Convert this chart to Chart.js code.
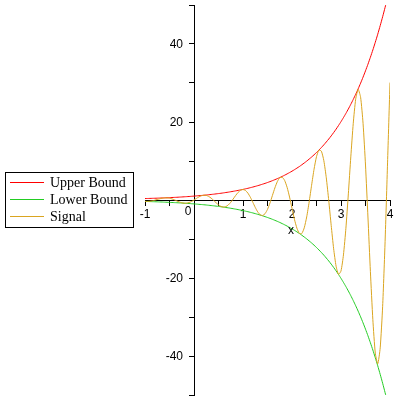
<!DOCTYPE html>
<html>
<head>
<meta charset="utf-8">
<script src="https://cdn.jsdelivr.net/npm/chart.js@4.4.1/dist/chart.umd.min.js"></script>
<style>
  html, body { margin: 0; padding: 0; background: #fff; }
</style>
</head>
<body>
<canvas id="chart" width="400" height="400"></canvas>
<script>
// sample positions along x
const xs = [
  -1.00, -0.95, -0.90, -0.85, -0.80, -0.75, -0.70, -0.65, -0.60, -0.55,
  -0.50, -0.45, -0.40, -0.35, -0.30, -0.25, -0.20, -0.15, -0.10, -0.05,
  0.00, 0.05, 0.10, 0.15, 0.20, 0.25, 0.30, 0.35, 0.40, 0.45,
  0.50, 0.55, 0.60, 0.65, 0.70, 0.75, 0.80, 0.85, 0.90, 0.95,
  1.00, 1.05, 1.10, 1.15, 1.20, 1.25, 1.30, 1.35, 1.40, 1.45,
  1.50, 1.55, 1.60, 1.65, 1.70, 1.75, 1.80, 1.85, 1.90, 1.95,
  2.00, 2.05, 2.10, 2.15, 2.20, 2.25, 2.30, 2.35, 2.40, 2.45,
  2.50, 2.55, 2.60, 2.65, 2.70, 2.75, 2.80, 2.85, 2.90, 2.95,
  3.00, 3.05, 3.10, 3.15, 3.20, 3.25, 3.30, 3.35, 3.40, 3.45,
  3.50, 3.55, 3.60, 3.65, 3.70, 3.75, 3.80, 3.85, 3.90, 3.95,
  4.00
];

const upper = [
  0.37, 0.39, 0.41, 0.43, 0.45, 0.47, 0.50, 0.52, 0.55, 0.58,
  0.61, 0.64, 0.67, 0.70, 0.74, 0.78, 0.82, 0.86, 0.90, 0.95,
  1.00, 1.05, 1.11, 1.16, 1.22, 1.28, 1.35, 1.42, 1.49, 1.57,
  1.65, 1.73, 1.82, 1.92, 2.01, 2.12, 2.23, 2.34, 2.46, 2.59,
  2.72, 2.86, 3.00, 3.16, 3.32, 3.49, 3.67, 3.86, 4.06, 4.26,
  4.48, 4.71, 4.95, 5.21, 5.47, 5.75, 6.05, 6.36, 6.69, 7.03,
  7.39, 7.77, 8.17, 8.58, 9.03, 9.49, 9.97, 10.49, 11.02, 11.59,
  12.18, 12.81, 13.46, 14.15, 14.88, 15.64, 16.44, 17.29, 18.17, 19.11,
  20.09, 21.12, 22.20, 23.34, 24.53, 25.79, 27.11, 28.50, 29.96, 31.50,
  33.12, 34.81, 36.60, 38.47, 40.45, 42.52, 44.70, 46.99, 49.40, 51.94,
  54.60
];

const lower = [
  -0.37, -0.39, -0.41, -0.43, -0.45, -0.47, -0.50, -0.52, -0.55, -0.58,
  -0.61, -0.64, -0.67, -0.70, -0.74, -0.78, -0.82, -0.86, -0.90, -0.95,
  -1.00, -1.05, -1.11, -1.16, -1.22, -1.28, -1.35, -1.42, -1.49, -1.57,
  -1.65, -1.73, -1.82, -1.92, -2.01, -2.12, -2.23, -2.34, -2.46, -2.59,
  -2.72, -2.86, -3.00, -3.16, -3.32, -3.49, -3.67, -3.86, -4.06, -4.26,
  -4.48, -4.71, -4.95, -5.21, -5.47, -5.75, -6.05, -6.36, -6.69, -7.03,
  -7.39, -7.77, -8.17, -8.58, -9.03, -9.49, -9.97, -10.49, -11.02, -11.59,
  -12.18, -12.81, -13.46, -14.15, -14.88, -15.64, -16.44, -17.29, -18.17, -19.11,
  -20.09, -21.12, -22.20, -23.34, -24.53, -25.79, -27.11, -28.50, -29.96, -31.50,
  -33.12, -34.81, -36.60, -38.47, -40.45, -42.52, -44.70, -46.99, -49.40, -51.94,
  -54.60
];

const signal = [
  -0.36, -0.37, -0.32, -0.21, -0.05, 0.13, 0.31, 0.46, 0.55, 0.55,
  0.46, 0.28, 0.04, -0.24, -0.50, -0.71, -0.82, -0.80, -0.65, -0.37,
  0.00, 0.41, 0.79, 1.08, 1.22, 1.17, 0.91, 0.48, -0.09, -0.69,
  -1.25, -1.65, -1.82, -1.69, -1.27, -0.59, 0.26, 1.16, 1.95, 2.50,
  2.69, 2.44, 1.76, 0.71, -0.58, -1.90, -3.04, -3.78, -3.97, -3.51,
  -2.40, -0.78, 1.15, 3.08, 4.70, 5.70, 5.84, 5.01, 3.25, 0.76,
  -2.13, -4.96, -7.22, -8.56, -8.59, -7.13, -4.34, -0.52, 3.78, 7.90,
  11.12, 12.80, 12.51, 10.07, 5.68, -0.14, -6.53, -12.51, -16.99, -19.10,
  -18.19, -14.08, -7.25, 1.57, 11.05, 19.67, 25.87, 28.37, 26.36, 19.67,
  8.97, -4.36, -18.37, -30.69, -39.26, -42.01, -37.92, -27.25, -10.59, 9.51,
  30.11
];

const seriesNames = ["Upper Bound", "Lower Bound", "Signal"];
const seriesColors = ["#ff0000", "#22cc22", "#daa520"];

const xLabels = [-1, 1, 2, 3, 4];
const yLabels = [-40, -20, 20, 40];

const tickFont = { family: "Liberation Sans", size: 12 };

function pts(ys) {
  return xs.map((x, i) => ({ x: x, y: ys[i] }));
}

// draws the y tick labels, the offset "0", the axis name and the boxed legend
const extras = {
  id: "extras",
  afterDraw(chart) {
    const ctx = chart.ctx;
    const sx = chart.scales.x;
    const sy = chart.scales.y;
    const x0 = sx.getPixelForValue(0);
    const y0 = sy.getPixelForValue(0);
    ctx.save();
    ctx.fillStyle = "#000";
    ctx.font = "12px 'Liberation Sans'";
    ctx.textBaseline = "middle";
    ctx.textAlign = "right";
    yLabels.forEach((v) => {
      ctx.fillText(String(v), x0 - 11, sy.getPixelForValue(v) + 1);
    });
    ctx.textAlign = "center";
    ctx.fillText("0", x0 - 6, y0 + 12);
    ctx.fillText("x", sx.getPixelForValue(1.98), y0 + 31);

    ctx.strokeStyle = "#000";
    ctx.lineWidth = 1;
    ctx.strokeRect(5.5, 172.5, 128, 55);
    ctx.font = "14px 'Liberation Serif'";
    ctx.textAlign = "left";
    const rows = [182, 199, 216];
    seriesNames.forEach((name, i) => {
      ctx.strokeStyle = seriesColors[i];
      ctx.beginPath();
      ctx.moveTo(10, rows[i] + 0.5);
      ctx.lineTo(44, rows[i] + 0.5);
      ctx.stroke();
      ctx.fillStyle = "#000";
      ctx.fillText(name, 50, rows[i] + 1);
    });
    ctx.restore();
  }
};

const ctx = document.getElementById("chart").getContext("2d");
new Chart(ctx, {
  type: "line",
  data: {
    datasets: [
      { label: seriesNames[0], data: pts(upper), borderColor: seriesColors[0], order: 2 },
      { label: seriesNames[1], data: pts(lower), borderColor: seriesColors[1], order: 1 },
      { label: seriesNames[2], data: pts(signal), borderColor: seriesColors[2], order: 0 },
    ],
  },
  options: {
    responsive: false,
    animation: false,
    layout: { padding: { left: 145, right: 10, top: 5, bottom: 5 } },
    elements: {
      line: { borderWidth: 1, tension: 0.2, fill: false },
      point: { radius: 0 },
    },
    plugins: {
      legend: { display: false },
      tooltip: { enabled: false },
    },
    scales: {
      x: {
        type: "linear",
        min: -1,
        max: 4,
        position: { y: 0 },
        grid: { drawOnChartArea: false, tickLength: 5, color: "#000" },
        border: { color: "#000" },
        ticks: {
          stepSize: 0.5,
          autoSkip: false,
          maxRotation: 0,
          padding: 2,
          color: "#000",
          font: tickFont,
          callback: (v) => (xLabels.includes(v) ? String(v) : ""),
        },
        afterFit: (s) => { s.height = 0; s.paddingLeft = 0; s.paddingRight = 0; },
      },
      y: {
        type: "linear",
        min: -50,
        max: 50,
        position: { x: 0 },
        grid: { drawOnChartArea: false, tickLength: 5, color: "#000" },
        border: { color: "#000" },
        ticks: {
          stepSize: 10,
          autoSkip: false,
          color: "#000",
          font: tickFont,
          callback: () => "",
        },
        afterFit: (s) => { s.width = 0; s.paddingTop = 0; s.paddingBottom = 0; },
      },
    },
  },
  plugins: [extras],
});
</script>
</body>
</html>
